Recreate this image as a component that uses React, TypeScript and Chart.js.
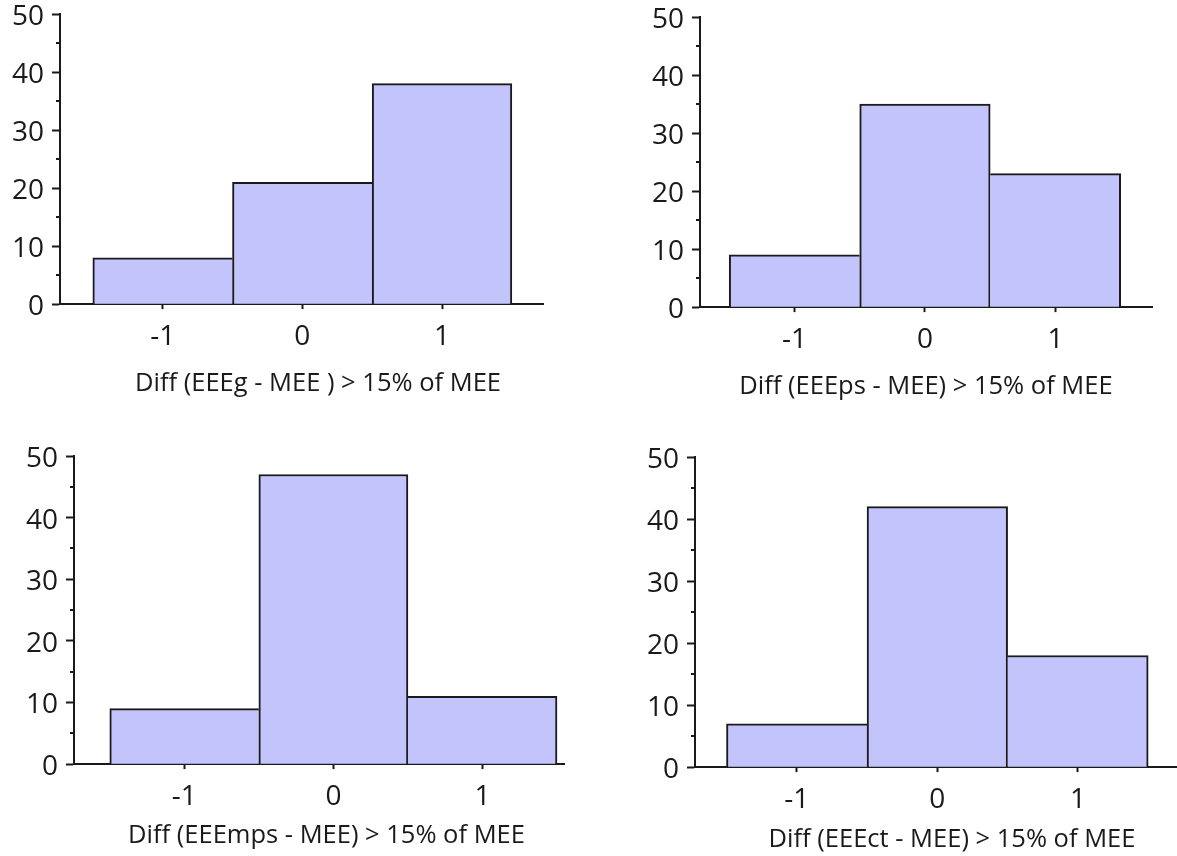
import React, { useEffect, useRef } from 'react';
import { Chart, registerables } from 'chart.js';

Chart.register(...registerables);

// ---------- data ----------
const binCenters = [-1, 0, 1];
const xTickValues = [-1, 0, 1];
const xTickLabels = ['-1', '0', '1'];

const countsEEEg = [8, 21, 38];
const countsEEEps = [9, 35, 23];
const countsEEEmps = [9, 47, 11];
const countsEEEct = [7, 42, 18];

const titleEEEg = 'Diff (EEEg - MEE ) > 15% of MEE';
const titleEEEps = 'Diff (EEEps - MEE) > 15% of MEE';
const titleEEEmps = 'Diff (EEEmps - MEE) > 15% of MEE';
const titleEEEct = 'Diff (EEEct - MEE) > 15% of MEE';

const yMin = 0;
const yMax = 50;
const yStep = 10;
const yMinorTicks = [5, 15, 25, 35, 45];

// ---------- style ----------
const FONT = "'Open Sans', 'DejaVu Sans', sans-serif";
const INK = '#1a1a1a';
const BAR_FILL = '#c4c4fc';
const TICK_SIZE = 28;
const TITLE_SIZE = 25.5;

type Panel = {
  counts: number[];
  title: string;
  xMin: number;
  xMax: number;
  left: number;
  top: number;
  width: number;
  height: number;
  padTop: number;
  yW: number;
  rW: number;
  xH: number;
};

const panels: Panel[] = [
  { counts: countsEEEg, title: titleEEEg, xMin: -1.735, xMax: 1.723, left: 0, top: -16, width: 636, height: 416, padTop: 30, yW: 60, rW: 93, xH: 64 },
  { counts: countsEEEps, title: titleEEEps, xMin: -1.724, xMax: 1.74, left: 640, top: -13, width: 572, height: 416, padTop: 30, yW: 60, rW: 60, xH: 64 },
  { counts: countsEEEmps, title: titleEEEmps, xMin: -1.74, xMax: 1.547, left: 14, top: 426, width: 625, height: 426, padTop: 30, yW: 60, rW: 75, xH: 56 },
  { counts: countsEEEct, title: titleEEEct, xMin: -1.724, xMax: 1.705, left: 635, top: 427, width: 634, height: 429, padTop: 30, yW: 60, rW: 92, xH: 57 },
];

const minorTickPlugin = {
  id: 'minorTicks',
  afterDraw(chart: any) {
    const s = chart.scales.y;
    const ctx = chart.ctx;
    ctx.save();
    ctx.strokeStyle = INK;
    ctx.lineWidth = 2;
    const x = Math.round(s.right);
    for (const v of yMinorTicks) {
      const py = Math.round(s.getPixelForValue(v));
      ctx.beginPath();
      ctx.moveTo(x - 4, py);
      ctx.lineTo(x, py);
      ctx.stroke();
    }
    ctx.restore();
  },
};

function Histogram({ p }: { p: Panel }) {
  const ref = useRef<HTMLCanvasElement | null>(null);
  useEffect(() => {
    if (!ref.current) return;
    const last = binCenters.length - 1;
    const c = p.counts;
    const chart = new Chart(ref.current, {
      type: 'bar',
      data: {
        datasets: [
          {
            data: binCenters.map((x, i) => ({ x, y: c[i] })) as any,
            backgroundColor: BAR_FILL,
            borderColor: INK,
            borderWidth: ((ctx: any) => {
              const i = ctx.dataIndex;
              return {
                top: 2,
                left: i === 0 || c[i] >= c[i - 1] ? 2 : 0,
                right: i === last || c[i] > c[i + 1] ? 2 : 0,
                bottom: 0,
              };
            }) as any,
            borderSkipped: false,
            barPercentage: 1,
            categoryPercentage: 1,
          },
        ],
      },
      options: {
        responsive: false,
        animation: false,
        devicePixelRatio: 1,
        layout: { padding: { top: p.padTop, left: 0, right: 0, bottom: 0 } },
        plugins: {
          legend: { display: false },
          tooltip: { enabled: false },
          title: {
            display: true,
            text: p.title,
            position: 'bottom',
            color: INK,
            font: { family: FONT, size: TITLE_SIZE, weight: 'normal', lineHeight: 1.25 },
            padding: 0,
          },
        },
        scales: {
          x: {
            type: 'linear',
            min: p.xMin,
            max: p.xMax,
            offset: false,
            afterBuildTicks: (s: any) => {
              s.ticks = xTickValues.map((v) => ({ value: v }));
            },
            afterFit: (s: any) => {
              s.height = p.xH;
            },
            grid: {
              display: true,
              offset: false,
              drawOnChartArea: false,
              drawTicks: true,
              tickLength: 5,
              tickWidth: 2,
              tickColor: INK,
            },
            border: { display: true, color: INK, width: 2 },
            ticks: {
              autoSkip: false,
              maxRotation: 0,
              padding: 11,
              color: INK,
              font: { family: FONT, size: TICK_SIZE },
              callback: (v: any) => {
                const i = xTickValues.indexOf(Number(v));
                return i >= 0 ? xTickLabels[i] : '';
              },
            },
          },
          y: {
            type: 'linear',
            min: yMin,
            max: yMax,
            afterFit: (s: any) => {
              s.width = p.yW;
            },
            grid: {
              display: true,
              drawOnChartArea: false,
              drawTicks: true,
              tickLength: 8,
              tickWidth: 2,
              tickColor: INK,
            },
            border: { display: true, color: INK, width: 2 },
            ticks: {
              stepSize: yStep,
              padding: 8,
              labelOffset: 3,
              color: INK,
              font: { family: FONT, size: TICK_SIZE },
            },
          },
          y2: {
            type: 'linear',
            position: 'right',
            display: true,
            grid: { display: false, drawTicks: false },
            ticks: { display: false },
            border: { display: false },
            afterFit: (s: any) => {
              s.width = p.rW;
            },
          },
        },
      } as any,
      plugins: [minorTickPlugin],
    });
    return () => chart.destroy();
  }, [p]);
  return (
    <canvas
      ref={ref}
      width={p.width}
      height={p.height}
      style={{ position: 'absolute', left: p.left, top: p.top, width: p.width, height: p.height }}
    />
  );
}

export default function App() {
  return (
    <div
      style={{
        position: 'absolute',
        left: 0,
        top: 0,
        width: 1177,
        height: 856,
        overflow: 'hidden',
        background: '#ffffff',
      }}
    >
      {panels.map((p, i) => (
        <Histogram key={i} p={p} />
      ))}
    </div>
  );
}
